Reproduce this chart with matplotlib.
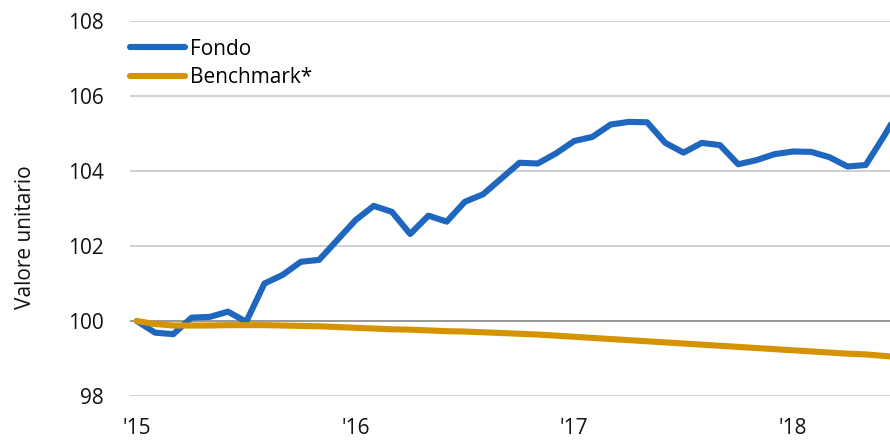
import numpy as np
import matplotlib
matplotlib.use('Agg')
import matplotlib.pyplot as plt

plt.rcParams['font.family'] = ['Open Sans', 'DejaVu Sans']

# Monthly values from Jan 2015
fondo = [100.00, 99.69, 99.65, 100.09, 100.11, 100.25, 99.98, 101.00, 101.23, 101.58,
         101.63, 102.16, 102.69, 103.07, 102.91, 102.32, 102.81, 102.65, 103.18, 103.38,
         103.80, 104.22, 104.20, 104.47, 104.80, 104.91, 105.24, 105.31, 105.30, 104.75,
         104.49, 104.75, 104.69, 104.18, 104.29, 104.45, 104.52, 104.51, 104.37, 104.12,
         104.16, 104.93, 105.75]
benchmark = [100.00, 99.92, 99.88, 99.88, 99.88, 99.89, 99.89, 99.89, 99.88, 99.87,
             99.86, 99.84, 99.82, 99.80, 99.78, 99.77, 99.75, 99.73, 99.72, 99.70,
             99.68, 99.66, 99.64, 99.61, 99.58, 99.55, 99.52, 99.49, 99.46, 99.43,
             99.40, 99.37, 99.34, 99.31, 99.28, 99.25, 99.22, 99.19, 99.16, 99.13,
             99.11, 99.07, 99.03]
year_ticks = [0, 12, 24, 36]
year_labels = ["'15", "'16", "'17", "'18"]
y_ticks = [98, 100, 102, 104, 106, 108]

months = np.arange(len(fondo))

fig = plt.figure(figsize=(8.9, 4.42), dpi=100)
ax = fig.add_axes([0.146, 0.104, 0.854, 0.8485])

ax.plot(months, fondo, color='#1F66BE', lw=4.4, label='Fondo', solid_capstyle='round', zorder=3)
ax.plot(months, benchmark, color='#D69300', lw=4.4, label='Benchmark*', solid_capstyle='round', zorder=3)

ax.set_xlim(-0.38, 41.33)
ax.set_ylim(98, 108)
ax.set_yticks(y_ticks)
ax.set_xticks(year_ticks)
ax.set_xticklabels(year_labels)
ax.tick_params(axis='both', length=0, labelsize=15, colors='#111111')
ax.tick_params(axis='y', pad=19)
ax.tick_params(axis='x', pad=16)

for v in y_ticks:
    if v == 100:
        ax.axhline(v, color='#7a7a7a', lw=1.1, zorder=1)
    else:
        ax.axhline(v, color='#c4c4c4', lw=1.1, zorder=1)

for s in ax.spines.values():
    s.set_visible(False)

ax.set_ylabel('Valore unitario', fontsize=15, color='#111111')
ax.yaxis.set_label_coords(-0.124, 0.424)

ax.legend(loc='upper left', bbox_to_anchor=(0.0, 0.953), frameon=False, fontsize=15,
          handlelength=2.64, handletextpad=0.24, labelspacing=0.35, borderaxespad=0,
          borderpad=0)

fig.savefig('out.png', dpi=100)
